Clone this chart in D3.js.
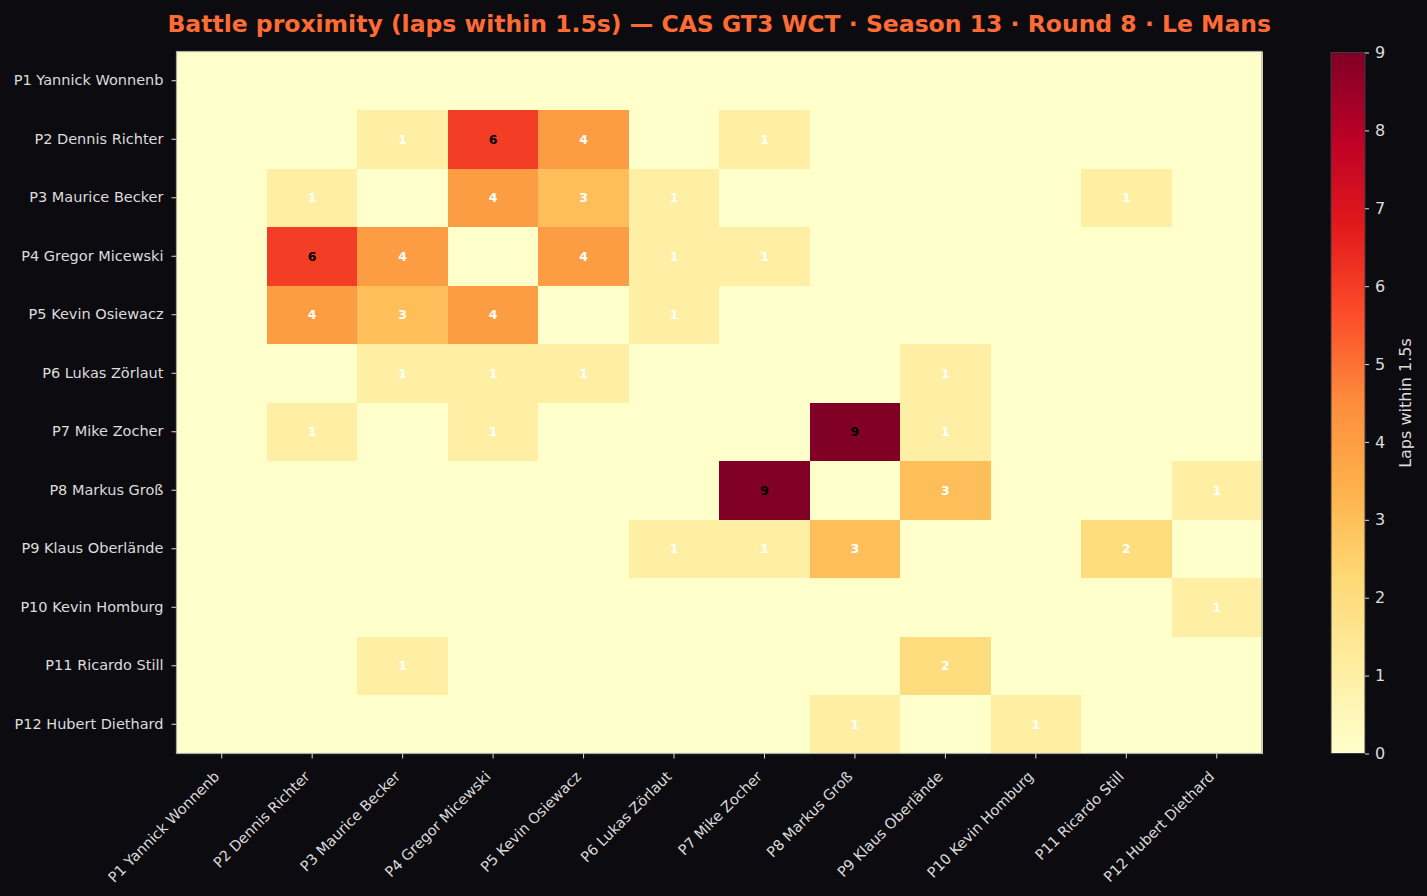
<!DOCTYPE html>
<html>
<head>
<meta charset="utf-8">
<script src="https://cdn.jsdelivr.net/npm/d3@7"></script>
<style>
  html, body { margin: 0; padding: 0; background: #0c0b10; }
  svg text { font-family: "DejaVu Sans", sans-serif; }
</style>
</head>
<body>
<div id="chart"></div>
<script>
// drivers, in finishing order
const drivers = [
  "P1 Yannick Wonnenb", "P2 Dennis Richter", "P3 Maurice Becker", "P4 Gregor Micewski",
  "P5 Kevin Osiewacz", "P6 Lukas Zörlaut", "P7 Mike Zocher", "P8 Markus Groß",
  "P9 Klaus Oberlände", "P10 Kevin Homburg", "P11 Ricardo Still", "P12 Hubert Diethard"
];

// laps within 1.5s, row driver vs column driver
const laps = [
  [0, 0, 0, 0, 0, 0, 0, 0, 0, 0, 0, 0],
  [0, 0, 1, 6, 4, 0, 1, 0, 0, 0, 0, 0],
  [0, 1, 0, 4, 3, 1, 0, 0, 0, 0, 1, 0],
  [0, 6, 4, 0, 4, 1, 1, 0, 0, 0, 0, 0],
  [0, 4, 3, 4, 0, 1, 0, 0, 0, 0, 0, 0],
  [0, 0, 1, 1, 1, 0, 0, 0, 1, 0, 0, 0],
  [0, 1, 0, 1, 0, 0, 0, 9, 1, 0, 0, 0],
  [0, 0, 0, 0, 0, 0, 9, 0, 3, 0, 0, 1],
  [0, 0, 0, 0, 0, 1, 1, 3, 0, 0, 2, 0],
  [0, 0, 0, 0, 0, 0, 0, 0, 0, 0, 0, 1],
  [0, 0, 1, 0, 0, 0, 0, 0, 2, 0, 0, 0],
  [0, 0, 0, 0, 0, 0, 0, 1, 0, 1, 0, 0]
];

const cbTicks = [0, 1, 2, 3, 4, 5, 6, 7, 8, 9];
const ylorrd = ["#ffffcc", "#ffeda0", "#fed976", "#feb24c", "#fd8d3c", "#fc4e2a", "#e31a1c", "#bd0026", "#800026"];

const W = 1427, H = 896;
const plot = {left: 176.5, top: 51.5, right: 1262, bottom: 753.5};
const cb = {left: 1331, right: 1365, top: 52.5, bottom: 753.5};
const txt = "#dcdcdc";

const svg = d3.select("#chart").append("svg")
  .attr("width", W).attr("height", H)
  .style("background", "#0c0b10");

const vmax = d3.max(laps.flat());
const color = d3.scaleLinear()
  .domain(d3.range(ylorrd.length).map(i => i * vmax / (ylorrd.length - 1)))
  .range(ylorrd)
  .interpolate(d3.interpolateRgb);

const x = d3.scaleBand().domain(drivers).range([plot.left, plot.right]);
const y = d3.scaleBand().domain(drivers).range([plot.top, plot.bottom]);

// cells
const cells = [];
laps.forEach((row, i) => row.forEach((v, j) => cells.push({r: drivers[i], c: drivers[j], v})));

svg.append("g")
  .attr("shape-rendering", "crispEdges")
  .selectAll("rect")
  .data(cells).enter()
  .append("rect")
    .attr("x", d => x(d.c))
    .attr("y", d => y(d.r))
    .attr("width", x.bandwidth() + 0.6)
    .attr("height", y.bandwidth() + 0.6)
    .attr("fill", d => color(d.v));

svg.append("g").selectAll("text")
  .data(cells.filter(d => d.v > 0)).enter()
  .append("text")
    .attr("x", d => x(d.c) + x.bandwidth() / 2)
    .attr("y", d => y(d.r) + y.bandwidth() / 2)
    .attr("dy", "0.36em")
    .attr("text-anchor", "middle")
    .attr("font-size", 12.5)
    .attr("font-weight", "bold")
    .attr("fill", d => d.v > vmax / 2 ? "#000" : "#fff")
    .text(d => d.v);

// frame
svg.append("rect")
  .attr("x", plot.left).attr("y", plot.top)
  .attr("width", plot.right - plot.left).attr("height", plot.bottom - plot.top)
  .attr("fill", "none").attr("stroke", "#a8a8a8").attr("stroke-width", 1.2);

// y axis
const yAxis = svg.append("g")
  .attr("transform", `translate(${plot.left},0)`)
  .call(d3.axisLeft(y).tickSize(5).tickPadding(8))
  .call(g => g.select(".domain").remove());
yAxis.selectAll("line").attr("stroke", txt);
yAxis.selectAll("text").attr("fill", txt).attr("font-size", 14.5);

// x axis
const xAxis = svg.append("g")
  .attr("transform", `translate(0,${plot.bottom})`)
  .call(d3.axisBottom(x).tickSize(5).tickPadding(4))
  .call(g => g.select(".domain").remove());
xAxis.selectAll("line").attr("stroke", txt);
xAxis.selectAll("text")
  .attr("fill", txt).attr("font-size", 14.5)
  .attr("text-anchor", "end")
  .attr("dy", null)
  .attr("y", 0)
  .attr("transform", "translate(-1.5,24) rotate(-45)");

// colorbar
const cbScale = d3.scaleLinear().domain([0, vmax]).range([cb.bottom, cb.top]);
const defs = svg.append("defs");
const grad = defs.append("linearGradient").attr("id", "cbgrad")
  .attr("x1", 0).attr("y1", 1).attr("x2", 0).attr("y2", 0);
grad.selectAll("stop")
  .data(d3.range(ylorrd.length)).enter()
  .append("stop")
    .attr("offset", i => i / (ylorrd.length - 1))
    .attr("stop-color", i => ylorrd[i]);

svg.append("rect")
  .attr("x", cb.left).attr("y", cb.top)
  .attr("width", cb.right - cb.left).attr("height", cb.bottom - cb.top)
  .attr("fill", "url(#cbgrad)")
  .attr("stroke", "#3a3a44").attr("stroke-width", 1);

const cbAxis = svg.append("g")
  .attr("transform", `translate(${cb.right},0)`)
  .call(d3.axisRight(cbScale).tickValues(cbTicks).tickFormat(d3.format("d")).tickSize(4).tickPadding(6))
  .call(g => g.select(".domain").remove());
cbAxis.selectAll("line").attr("stroke", txt);
cbAxis.selectAll("text").attr("fill", txt).attr("font-size", 16);

svg.append("text")
  .attr("transform", `translate(1411,${(cb.top + cb.bottom) / 2}) rotate(-90)`)
  .attr("text-anchor", "middle")
  .attr("fill", txt).attr("font-size", 16)
  .text("Laps within 1.5s");

// title
svg.append("text")
  .attr("x", (plot.left + plot.right) / 2)
  .attr("y", 32)
  .attr("text-anchor", "middle")
  .attr("fill", "#ff6b35")
  .attr("font-size", 23.5)
  .attr("font-weight", "bold")
  .text("Battle proximity (laps within 1.5s) — CAS GT3 WCT · Season 13 · Round 8 · Le Mans");
</script>
</body>
</html>
